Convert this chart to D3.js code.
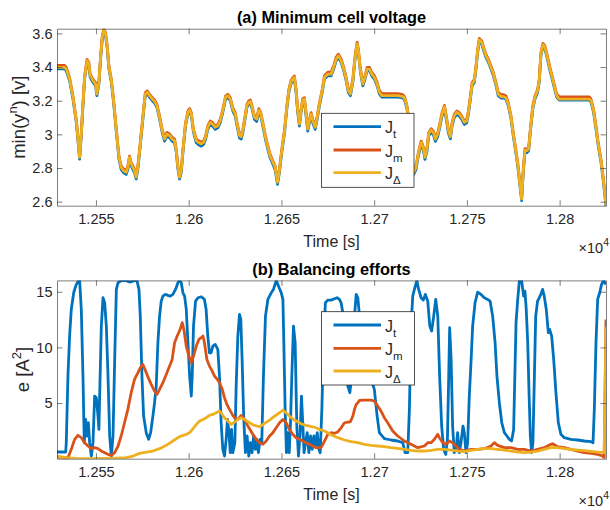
<!DOCTYPE html>
<html>
<head>
<meta charset="utf-8">
<script src="https://cdn.jsdelivr.net/npm/d3@7"></script>
<style>
  body { margin: 0; background: #fff; }
  text { font-family: "Liberation Sans", Arial, Helvetica, sans-serif; fill: #262626; }
</style>
</head>
<body>
<svg id="fig" width="610" height="510"></svg>
<script>
// ---- data: (a) minimum cell voltage, shared time base
var tV = [12529.0,12533.1,12534.0,12535.8,12537.6,12539.4,12541.2,12542.1,12543.0,12543.9,
  12545.2,12546.2,12546.9,12548.4,12549.8,12550.5,12551.6,12552.5,12553.4,12554.3,
  12555.2,12556.1,12557.0,12558.3,12559.5,12561.0,12562.4,12563.6,12564.9,12566.3,
  12567.2,12568.1,12569.0,12569.9,12570.8,12571.7,12572.6,12573.9,12575.3,12576.6,
  12577.7,12578.9,12580.4,12581.6,12582.9,12584.3,12585.7,12587.0,12588.3,12589.7,
  12591.1,12592.4,12593.3,12594.2,12595.1,12596.0,12596.9,12598.3,12599.6,12600.5,
  12601.4,12602.6,12604.1,12605.3,12606.8,12608.0,12609.1,12610.3,12611.6,12613.0,
  12614.3,12615.7,12617.0,12618.4,12619.9,12621.1,12622.4,12623.8,12625.1,12626.1,
  12627.4,12628.3,12629.2,12630.1,12631.4,12632.4,12633.3,12634.2,12635.5,12636.7,
  12637.8,12638.9,12640.0,12641.4,12642.7,12643.9,12645.4,12646.6,12647.9,12648.9,
  12650.2,12651.7,12652.9,12654.0,12655.1,12656.1,12657.0,12657.9,12658.8,12659.7,
  12660.6,12661.5,12662.4,12663.3,12664.2,12665.1,12666.0,12666.9,12668.2,12669.3,
  12670.5,12672.0,12673.2,12675.0,12676.8,12678.2,12679.5,12680.7,12682.2,12683.6,
  12684.9,12686.1,12687.2,12688.5,12689.7,12690.8,12691.5,12692.6,12693.9,12695.1,
  12696.2,12697.5,12698.7,12700.1,12701.6,12702.8,12704.1,12705.5,12709.1,12712.7,
  12715.0,12716.0,12716.8,12717.7,12718.5,12719.9,12721.3,12722.6,12723.8,12725.3,
  12726.4,12727.4,12728.5,12729.4,12730.7,12731.9,12733.0,12734.3,12735.5,12736.6,
  12737.9,12738.9,12740.0,12741.1,12742.0,12743.2,12744.5,12745.9,12747.2,12748.6,
  12749.9,12750.8,12751.9,12752.8,12754.0,12754.9,12755.8,12756.7,12758.0,12759.1,
  12760.3,12761.6,12763.0,12764.3,12765.7,12766.9,12768.4,12769.8,12771.1,12772.3,
  12773.8,12775.0,12776.1,12777.4,12778.6,12779.5,12780.4,12781.3,12782.4,12783.3,
  12784.2,12785.5,12786.7,12788.1,12789.0,12789.9,12791.0,12792.1,12793.2,12794.4,
  12795.7,12797.1,12798.4,12799.8,12802.5,12806.1,12809.7,12813.3,12816.0,12816.9,
  12818.3,12819.6,12820.8,12822.3,12823.4,12824.4,12825.0];

var vJt = [3.390,3.390,3.378,3.319,3.210,3.071,2.853,2.992,3.170,3.329,
  3.428,3.408,3.339,3.309,3.289,3.230,3.299,3.447,3.566,3.620,
  3.586,3.507,3.388,3.309,3.190,3.012,2.853,2.792,2.772,2.762,
  2.792,2.851,2.812,2.792,2.772,2.735,2.794,2.933,3.091,3.230,
  3.240,3.220,3.200,3.186,3.160,3.091,3.012,2.960,2.990,2.980,
  2.960,2.950,2.893,2.794,2.735,2.774,2.893,3.051,3.121,3.135,
  3.111,3.012,2.950,2.938,2.930,2.940,2.970,3.030,3.059,3.047,
  3.030,3.039,3.069,3.131,3.210,3.220,3.200,3.140,3.109,3.049,
  2.978,2.972,3.010,3.071,3.160,3.180,3.186,3.150,3.089,3.077,
  3.133,3.109,3.049,2.970,2.911,2.861,2.822,2.790,2.703,2.772,
  2.893,3.012,3.150,3.249,3.299,3.319,3.329,3.247,3.129,3.049,
  3.129,3.192,3.198,3.109,3.020,3.069,3.109,3.069,3.030,3.091,
  3.170,3.249,3.329,3.348,3.348,3.388,3.438,3.457,3.428,3.378,
  3.319,3.249,3.230,3.309,3.447,3.527,3.487,3.368,3.289,3.329,
  3.378,3.378,3.348,3.329,3.289,3.240,3.222,3.222,3.222,3.222,
  3.218,3.212,3.190,3.150,3.091,2.893,2.762,2.792,2.871,2.940,
  2.911,2.851,2.901,2.990,3.014,2.998,2.958,2.988,3.049,3.109,
  3.152,3.089,3.010,2.974,3.049,3.099,3.119,3.109,3.089,3.059,
  3.069,3.119,3.210,3.289,3.309,3.388,3.487,3.552,3.537,3.497,
  3.457,3.428,3.388,3.348,3.289,3.230,3.216,3.216,3.208,3.170,
  3.091,2.992,2.913,2.814,2.695,2.606,2.774,2.895,2.891,2.903,
  3.012,3.150,3.210,3.249,3.309,3.467,3.523,3.507,3.457,3.398,
  3.339,3.279,3.222,3.204,3.204,3.204,3.204,3.204,3.204,3.192,
  3.131,3.032,2.933,2.834,2.735,2.636,2.570];

var vJm = [3.410,3.410,3.398,3.337,3.228,3.089,2.871,3.010,3.188,3.347,
  3.446,3.426,3.357,3.327,3.307,3.248,3.317,3.465,3.584,3.628,
  3.604,3.525,3.406,3.327,3.208,3.030,2.871,2.812,2.794,2.784,
  2.812,2.871,2.832,2.812,2.792,2.753,2.812,2.951,3.109,3.248,
  3.258,3.238,3.218,3.204,3.178,3.109,3.030,2.982,3.012,3.002,
  2.982,2.972,2.911,2.812,2.753,2.792,2.911,3.069,3.139,3.153,
  3.129,3.030,2.972,2.962,2.953,2.960,2.990,3.050,3.079,3.069,
  3.050,3.059,3.089,3.149,3.228,3.238,3.218,3.158,3.129,3.069,
  3.000,2.994,3.030,3.089,3.178,3.198,3.204,3.168,3.109,3.099,
  3.153,3.129,3.069,2.990,2.931,2.881,2.842,2.812,2.723,2.792,
  2.911,3.030,3.168,3.267,3.317,3.337,3.347,3.267,3.149,3.069,
  3.149,3.212,3.218,3.129,3.040,3.089,3.129,3.089,3.050,3.109,
  3.188,3.267,3.349,3.370,3.370,3.408,3.458,3.477,3.448,3.398,
  3.339,3.269,3.250,3.329,3.467,3.547,3.507,3.388,3.309,3.349,
  3.398,3.398,3.368,3.349,3.309,3.262,3.242,3.242,3.242,3.242,
  3.238,3.230,3.208,3.168,3.109,2.911,2.782,2.812,2.891,2.960,
  2.931,2.871,2.921,3.010,3.034,3.020,2.980,3.010,3.069,3.129,
  3.172,3.109,3.030,2.994,3.069,3.119,3.139,3.129,3.109,3.079,
  3.089,3.139,3.228,3.307,3.327,3.406,3.505,3.570,3.555,3.515,
  3.475,3.446,3.406,3.366,3.307,3.250,3.236,3.236,3.228,3.188,
  3.109,3.010,2.931,2.832,2.713,2.624,2.792,2.915,2.911,2.921,
  3.030,3.168,3.228,3.267,3.327,3.485,3.541,3.525,3.475,3.416,
  3.357,3.297,3.240,3.222,3.222,3.222,3.222,3.222,3.222,3.210,
  3.149,3.050,2.951,2.852,2.753,2.654,2.586];

var vJd = [3.398,3.398,3.388,3.329,3.220,3.081,2.863,3.002,3.180,3.339,
  3.438,3.418,3.349,3.319,3.299,3.240,3.309,3.457,3.576,3.628,
  3.596,3.517,3.398,3.319,3.200,3.022,2.863,2.804,2.784,2.774,
  2.804,2.863,2.824,2.804,2.784,2.745,2.804,2.943,3.101,3.240,
  3.250,3.230,3.210,3.196,3.170,3.101,3.022,2.972,3.002,2.992,
  2.972,2.962,2.903,2.804,2.745,2.784,2.903,3.061,3.131,3.145,
  3.121,3.022,2.962,2.952,2.943,2.952,2.982,3.042,3.071,3.061,
  3.042,3.051,3.081,3.141,3.220,3.230,3.210,3.150,3.121,3.061,
  2.992,2.986,3.022,3.081,3.170,3.190,3.196,3.160,3.101,3.091,
  3.145,3.121,3.061,2.982,2.923,2.873,2.834,2.804,2.715,2.784,
  2.903,3.022,3.160,3.259,3.309,3.329,3.339,3.259,3.141,3.061,
  3.141,3.204,3.210,3.121,3.032,3.081,3.121,3.081,3.042,3.101,
  3.180,3.259,3.339,3.358,3.358,3.398,3.448,3.467,3.438,3.388,
  3.329,3.259,3.240,3.319,3.457,3.537,3.497,3.378,3.299,3.339,
  3.388,3.388,3.358,3.339,3.299,3.250,3.230,3.230,3.230,3.230,
  3.226,3.220,3.200,3.160,3.101,2.903,2.774,2.804,2.883,2.952,
  2.923,2.863,2.913,3.002,3.026,3.012,2.972,3.002,3.061,3.121,
  3.164,3.101,3.022,2.986,3.061,3.111,3.131,3.121,3.101,3.071,
  3.081,3.131,3.220,3.299,3.319,3.398,3.497,3.562,3.547,3.507,
  3.467,3.438,3.398,3.358,3.299,3.240,3.224,3.224,3.216,3.180,
  3.101,3.002,2.923,2.824,2.705,2.616,2.784,2.907,2.903,2.913,
  3.022,3.160,3.220,3.259,3.319,3.477,3.533,3.517,3.467,3.408,
  3.349,3.289,3.230,3.210,3.210,3.210,3.210,3.210,3.210,3.200,
  3.141,3.042,2.943,2.844,2.745,2.646,2.578];

// ---- data: (b) balancing efforts, [time, e] samples per strategy
var eJt = [[12529.0,0.60],[12533.7,0.60],[12534.0,1.44],[12534.9,7.43],[12535.8,11.02],[12536.7,13.41],[12538.0,14.91],[12539.4,15.66],[12540.7,16.0],[12541.2,16.0],
  [12542.1,13.41],[12543.0,7.43],[12543.7,1.44],[12544.4,3.53],[12545.2,2.04],[12545.9,3.23],[12546.6,1.44],[12547.5,0.24],[12548.4,1.44],[12549.3,5.63],
  [12550.2,5.48],[12551.1,3.83],[12551.6,2.63],[12552.0,5.63],[12552.9,11.92],[12553.8,14.46],[12554.7,14.01],[12555.6,11.92],[12556.5,7.43],[12557.4,2.04],
  [12558.3,0.24],[12559.2,2.04],[12560.1,8.92],[12561.0,15.21],[12561.9,15.81],[12563.6,16.0],[12566.3,16.0],[12568.1,15.87],[12570.8,16.0],[12572.1,16.0],
  [12573.2,15.21],[12573.9,12.81],[12574.8,7.43],[12575.7,3.83],[12577.1,2.34],[12578.4,1.74],[12579.5,2.34],[12580.7,3.83],[12581.6,5.03],[12582.5,6.53],
  [12583.4,10.42],[12584.3,12.81],[12585.2,14.16],[12586.1,14.61],[12587.4,14.76],[12588.8,14.67],[12590.1,14.61],[12591.5,14.76],[12592.9,15.21],[12594.2,15.81],
  [12595.1,16.0],[12596.0,15.81],[12596.9,14.91],[12597.8,14.61],[12598.7,13.41],[12599.6,10.42],[12600.5,7.43],[12601.4,5.63],[12601.9,7.43],[12602.6,11.92],
  [12603.7,14.16],[12605.0,14.46],[12606.8,14.55],[12608.5,14.31],[12609.4,13.41],[12610.3,11.02],[12611.2,9.52],[12612.1,9.52],[12613.0,10.12],[12614.3,10.27],
  [12615.7,9.82],[12616.6,7.43],[12617.5,3.23],[12618.4,0.84],[12619.3,0.24],[12620.2,1.74],[12620.9,3.53],[12621.7,2.34],[12622.4,0.54],[12623.1,2.63],
  [12623.8,0.54],[12624.9,1.44],[12625.6,6.53],[12626.5,11.02],[12627.4,12.96],[12628.1,12.51],[12628.8,8.92],[12629.7,3.53],[12630.6,0.54],[12631.5,2.04],
  [12632.4,0.24],[12633.3,1.44],[12634.2,0.54],[12635.0,2.04],[12636.0,0.84],[12636.7,1.74],[12637.6,0.54],[12638.5,1.74],[12639.4,1.44],[12640.3,7.43],
  [12641.4,12.81],[12642.7,14.31],[12644.5,14.91],[12645.7,15.21],[12647.2,16.0],[12648.4,15.51],[12649.9,14.91],[12650.8,14.31],[12651.3,10.42],[12652.0,4.43],
  [12652.7,0.54],[12653.4,2.34],[12654.2,0.54],[12654.9,3.23],[12655.6,7.43],[12656.5,11.92],[12657.4,10.42],[12658.3,2.93],[12659.2,0.24],[12660.1,2.34],
  [12660.8,5.63],[12661.5,3.23],[12662.2,0.54],[12663.0,1.44],[12663.9,2.34],[12664.8,0.54],[12665.7,2.04],[12666.6,0.84],[12667.5,2.04],[12668.4,1.14],
  [12669.3,2.34],[12670.2,0.84],[12670.9,0.54],[12671.8,4.43],[12672.7,10.42],[12673.7,14.01],[12675.0,14.25],[12676.8,14.25],[12678.6,14.37],[12680.0,14.46],
  [12681.3,14.31],[12682.2,14.01],[12683.1,13.11],[12684.3,8.92],[12685.8,6.53],[12686.9,5.93],[12687.9,7.43],[12689.0,11.92],[12690.3,14.76],[12691.2,14.46],
  [12692.6,11.92],[12696.6,8.02],[12700.1,6.23],[12701.6,3.83],[12702.8,2.34],[12705.5,1.80],[12709.1,1.68],[12712.7,1.59],[12715.4,1.44],[12716.7,0.54],
  [12718.1,0.54],[12719.0,4.43],[12719.9,11.92],[12720.8,14.61],[12721.7,15.21],[12723.0,16.0],[12724.0,15.21],[12725.3,14.46],[12726.5,14.25],[12727.6,14.76],
  [12728.9,14.16],[12730.0,11.92],[12731.0,11.47],[12732.1,12.81],[12733.2,14.31],[12734.3,12.81],[12735.3,7.43],[12736.4,2.93],[12737.5,0.84],[12738.6,0.39],
  [12739.5,1.74],[12740.2,7.43],[12740.7,11.77],[12741.5,8.92],[12742.3,2.93],[12743.2,0.54],[12744.3,1.14],[12745.0,2.34],[12745.9,0.54],[12746.8,1.44],
  [12747.9,2.93],[12748.6,2.34],[12749.5,0.54],[12750.4,1.44],[12751.3,5.63],[12752.2,8.62],[12753.1,11.92],[12754.4,14.01],[12755.8,14.97],[12757.6,14.76],
  [12759.4,14.46],[12761.2,14.31],[12762.5,14.16],[12763.9,12.81],[12765.2,10.42],[12766.2,7.43],[12767.5,5.03],[12768.8,3.23],[12770.2,2.34],[12771.6,2.04],
  [12772.9,1.74],[12774.1,1.59],[12775.2,2.63],[12776.5,12.22],[12777.4,14.31],[12778.3,16.0],[12779.5,16.0],[12780.6,14.61],[12781.3,15.06],[12782.0,13.41],
  [12782.8,10.42],[12783.5,5.93],[12784.2,2.04],[12784.9,0.54],[12785.6,1.44],[12786.4,7.43],[12787.1,12.81],[12788.1,14.16],[12789.9,14.76],[12790.8,15.21],
  [12791.7,14.61],[12792.8,13.41],[12793.9,11.32],[12794.6,11.62],[12795.7,11.02],[12796.8,8.92],[12798.0,5.93],[12799.3,3.23],[12800.7,2.19],[12802.5,1.89],
  [12806.1,1.74],[12809.7,1.68],[12813.3,1.59],[12816.9,1.53],[12818.0,1.44],[12818.7,4.43],[12819.6,10.42],[12820.5,14.31],[12821.6,14.91],[12822.6,15.66],
  [12823.7,16.0],[12825.0,15.66]];

var eJm = [[12529.0,0.15],[12534.9,0.09],[12536.7,0.84],[12538.5,1.74],[12540.3,2.10],[12542.1,1.89],[12543.9,1.44],[12545.7,1.14],[12547.5,0.90],[12549.3,0.99],
  [12551.1,0.90],[12552.9,0.69],[12554.7,0.54],[12556.5,0.39],[12558.3,0.30],[12560.1,0.54],[12561.9,1.14],[12563.6,2.04],[12565.4,3.23],[12567.2,4.43],
  [12569.0,5.93],[12570.8,7.13],[12572.6,7.72],[12573.9,8.17],[12575.3,8.47],[12576.8,7.87],[12578.2,7.28],[12579.8,6.68],[12581.6,6.08],[12582.9,5.78],
  [12584.3,6.23],[12586.1,6.83],[12587.9,7.57],[12589.7,8.32],[12591.1,8.92],[12592.4,10.42],[12593.8,11.02],[12595.4,11.62],[12596.5,12.22],[12597.4,11.62],
  [12598.7,10.12],[12600.1,9.22],[12601.4,8.62],[12602.6,9.22],[12604.1,10.12],[12605.5,10.72],[12606.8,10.87],[12607.7,11.02],[12608.5,10.42],[12609.8,8.92],
  [12611.2,8.32],[12612.7,7.87],[12613.9,7.43],[12615.4,7.13],[12616.6,6.83],[12618.1,6.23],[12619.3,5.48],[12620.6,4.88],[12622.0,4.43],[12623.5,3.98],
  [12624.7,3.68],[12626.5,3.53],[12628.3,3.89],[12630.1,3.53],[12631.9,2.93],[12634.6,2.19],[12636.4,1.74],[12638.2,1.44],[12640.0,1.29],[12641.8,1.59],
  [12643.6,2.04],[12645.4,2.34],[12647.2,2.78],[12649.0,3.23],[12650.8,3.53],[12652.5,3.23],[12654.3,2.63],[12656.1,2.19],[12657.9,1.89],[12659.7,1.74],
  [12661.5,1.59],[12663.3,1.44],[12665.1,1.29],[12666.9,1.14],[12668.7,0.99],[12671.4,0.99],[12673.2,1.59],[12675.0,2.19],[12676.8,2.34],[12678.6,2.28],
  [12680.4,2.40],[12682.2,2.78],[12684.0,3.23],[12685.8,3.29],[12687.2,3.32],[12688.5,3.83],[12689.4,4.43],[12690.3,4.88],[12691.2,5.03],[12692.1,5.24],
  [12694.8,5.27],[12698.4,5.27],[12700.1,5.18],[12701.9,4.73],[12703.7,4.28],[12705.5,3.68],[12707.3,3.23],[12710.0,2.49],[12712.7,2.04],[12716.3,1.59],
  [12719.9,1.29],[12723.5,0.99],[12727.1,1.14],[12728.9,1.44],[12730.7,1.44],[12732.5,1.74],[12734.3,2.19],[12735.2,1.89],[12737.0,1.44],[12738.8,1.29],
  [12740.6,1.59],[12742.3,1.44],[12744.1,1.14],[12745.9,0.84],[12748.6,0.69],[12752.2,0.84],[12755.8,0.84],[12759.4,0.90],[12763.0,1.14],[12764.8,1.44],
  [12766.6,1.20],[12770.2,0.99],[12773.8,0.99],[12777.4,0.84],[12781.0,0.84],[12784.6,0.69],[12788.1,0.84],[12791.7,0.99],[12795.3,1.29],[12796.2,1.35],
  [12798.9,1.08],[12802.5,0.99],[12806.1,0.84],[12809.7,0.69],[12813.3,0.54],[12816.9,0.48],[12820.5,0.39],[12823.2,0.24],[12824.0,0.09],[12825.0,12.5]];

var eJd = [[12529.0,0.24],[12534.0,0.09],[12539.4,0.03],[12546.6,0.0],[12553.8,0.03],[12561.0,0.06],[12566.3,0.09],[12570.0,0.24],[12573.5,0.48],[12577.1,0.60],
  [12580.7,0.69],[12584.3,0.90],[12587.9,1.20],[12591.5,1.59],[12595.1,1.98],[12598.7,2.19],[12600.5,2.34],[12602.3,2.69],[12604.1,3.08],[12605.9,3.38],
  [12607.7,3.53],[12609.4,3.68],[12611.2,3.89],[12613.0,3.98],[12614.8,4.13],[12616.6,4.28],[12617.5,4.13],[12619.3,3.68],[12621.1,3.38],[12622.9,3.08],
  [12624.7,3.29],[12626.5,3.53],[12628.3,3.68],[12630.1,3.53],[12631.9,3.32],[12633.7,3.14],[12635.5,2.99],[12638.2,2.87],[12640.9,3.17],[12643.6,3.47],
  [12646.3,3.83],[12649.0,4.13],[12650.8,4.37],[12652.5,4.13],[12654.3,3.83],[12657.0,3.47],[12659.7,3.23],[12661.5,3.08],[12663.3,2.99],[12665.1,2.93],
  [12666.9,2.87],[12668.7,2.78],[12670.5,2.63],[12673.2,2.49],[12676.8,2.16],[12680.4,1.89],[12684.0,1.68],[12687.6,1.53],[12691.2,1.44],[12694.8,1.29],
  [12698.4,1.20],[12701.9,1.14],[12705.5,1.08],[12709.1,0.99],[12712.7,0.93],[12716.3,0.84],[12719.9,0.75],[12723.5,0.69],[12727.1,0.69],[12730.7,0.75],
  [12734.3,0.84],[12737.9,0.84],[12741.5,0.78],[12745.0,0.69],[12748.6,0.63],[12752.2,0.75],[12755.8,0.84],[12759.4,0.90],[12763.0,0.90],[12766.6,0.84],
  [12770.2,0.78],[12773.8,0.69],[12777.4,0.60],[12781.0,0.54],[12784.6,0.60],[12788.1,0.69],[12791.7,0.84],[12795.3,0.99],[12797.1,1.02],[12798.9,0.99],
  [12802.5,0.90],[12806.1,0.84],[12809.7,0.78],[12813.3,0.72],[12816.9,0.66],[12820.5,0.60],[12824.0,0.54],[12825.0,11.8]];

var xTicks = [12550, 12600, 12650, 12700, 12750, 12800];
var xTickLabels = ["1.255", "1.26", "1.265", "1.27", "1.275", "1.28"];
var vTicks = [2.6, 2.8, 3, 3.2, 3.4, 3.6];
var eTicks = [5, 10, 15];
var names = ["J", "J", "J"];
var subs = ["t", "m", "\u0394"];
var colors = ["#0072BD", "#D95319", "#EDB120"];

// ---- layout
var svg = d3.select("#fig");
var left = 57, right = 606, tickLen = 5.5;
var x = d3.scaleLinear().domain([12529, 12825]).range([left, right]);

var panels = [
  { key: "a", top: 28.7, bottom: 205.7, yDomain: [2.576, 3.628], yTicks: vTicks,
    title: "(a) Minimum cell voltage", ylab: ["min(y", "n", ") [v]"], ylabX: 24.5,
    series: [tV.map(function(t, i){ return [t, vJt[i]]; }),
             tV.map(function(t, i){ return [t, vJm[i]]; }),
             tV.map(function(t, i){ return [t, vJd[i]]; })],
    legend: { x: 321.5, y: 113.3, w: 92.5, h: 74, rows: [126.7, 150, 172.7] } },
  { key: "b", top: 280.4, bottom: 458.7, yDomain: [0, 16.02], yTicks: eTicks,
    title: "(b) Balancing efforts", ylab: ["e [A", "2", "]"], ylabX: 28.5,
    series: [eJt, eJm, eJd],
    legend: { x: 321.5, y: 311.7, w: 93, h: 73.3, rows: [325, 348.3, 371] } }
];

panels.forEach(function(p){
  var y = d3.scaleLinear().domain(p.yDomain).range([p.bottom, p.top]);
  var g = svg.append("g").attr("class", "panel-" + p.key);

  svg.append("clipPath").attr("id", "clip-" + p.key)
    .append("rect").attr("x", left).attr("y", p.top)
    .attr("width", right - left).attr("height", p.bottom - p.top);

  var line = d3.line().x(function(d){ return x(d[0]); }).y(function(d){ return y(d[1]); });

  g.append("g").attr("clip-path", "url(#clip-" + p.key + ")")
    .selectAll("path").data(p.series).enter().append("path")
    .attr("d", line)
    .attr("fill", "none")
    .attr("stroke", function(d, i){ return colors[i]; })
    .attr("stroke-width", 2.8)
    .attr("stroke-linejoin", "round");

  // axes, MATLAB-ish: ticks inside on all four sides
  var axB = g.append("g").attr("transform", "translate(0," + p.bottom + ")")
    .call(d3.axisBottom(x).tickValues(xTicks).tickSizeInner(-tickLen).tickSizeOuter(0)
      .tickPadding(8.5).tickFormat(function(d, i){ return xTickLabels[i]; }));
  var axT = g.append("g").attr("transform", "translate(0," + p.top + ")")
    .call(d3.axisTop(x).tickValues(xTicks).tickSizeInner(-tickLen).tickSizeOuter(0).tickFormat(""));
  var axL = g.append("g").attr("transform", "translate(" + left + ",0)")
    .call(d3.axisLeft(y).tickValues(p.yTicks).tickSizeInner(-tickLen).tickSizeOuter(0)
      .tickPadding(4.5).tickFormat(d3.format("")));
  var axR = g.append("g").attr("transform", "translate(" + right + ",0)")
    .call(d3.axisRight(y).tickValues(p.yTicks).tickSizeInner(-tickLen).tickSizeOuter(0).tickFormat(""));

  [axB, axT, axL, axR].forEach(function(a){
    a.selectAll(".domain, .tick line").attr("stroke", "#262626").attr("stroke-width", 0.6);
    a.selectAll("text").attr("font-size", 14.5).attr("fill", "#262626")
      .style("font-family", "'Liberation Sans', Arial, sans-serif");
  });

  // title and labels
  g.append("text").attr("x", (left + right) / 2).attr("y", p.top - 5.5)
    .attr("text-anchor", "middle").attr("font-size", 16.3).attr("font-weight", "bold")
    .style("fill", "#000").text(p.title);

  g.append("text").attr("x", (left + right) / 2).attr("y", p.bottom + 41)
    .attr("text-anchor", "middle").attr("font-size", 16).text("Time [s]");

  var ex = g.append("text").attr("x", right + 3).attr("y", p.bottom + 47.5)
    .attr("text-anchor", "end").attr("font-size", 14.5);
  ex.append("tspan").text("\u00d710");
  ex.append("tspan").attr("font-size", 10.5).attr("dy", -7).text("4");

  var yl = g.append("text")
    .attr("transform", "translate(" + p.ylabX + "," + ((p.top + p.bottom) / 2) + ") rotate(-90)")
    .attr("text-anchor", "middle").attr("font-size", 18.5);
  yl.append("tspan").text(p.ylab[0]);
  yl.append("tspan").attr("font-size", 13).attr("dy", -8).text(p.ylab[1]);
  yl.append("tspan").attr("dy", 8).text(p.ylab[2]);

  // legend
  var L = p.legend;
  var lg = g.append("g");
  lg.append("rect").attr("x", L.x).attr("y", L.y).attr("width", L.w).attr("height", L.h)
    .attr("fill", "#fff").attr("stroke", "#262626").attr("stroke-width", 0.8);
  L.rows.forEach(function(ry, i){
    lg.append("line").attr("x1", L.x + 12).attr("x2", L.x + 59.5).attr("y1", ry).attr("y2", ry)
      .attr("stroke", colors[i]).attr("stroke-width", 2.8);
    var t = lg.append("text").attr("x", L.x + 63.5).attr("y", ry + 6.5).attr("font-size", 16);
    t.append("tspan").text(names[i]);
    t.append("tspan").attr("font-size", 11.5).attr("dy", 5).text(subs[i]);
  });
});
</script>
</body>
</html>
